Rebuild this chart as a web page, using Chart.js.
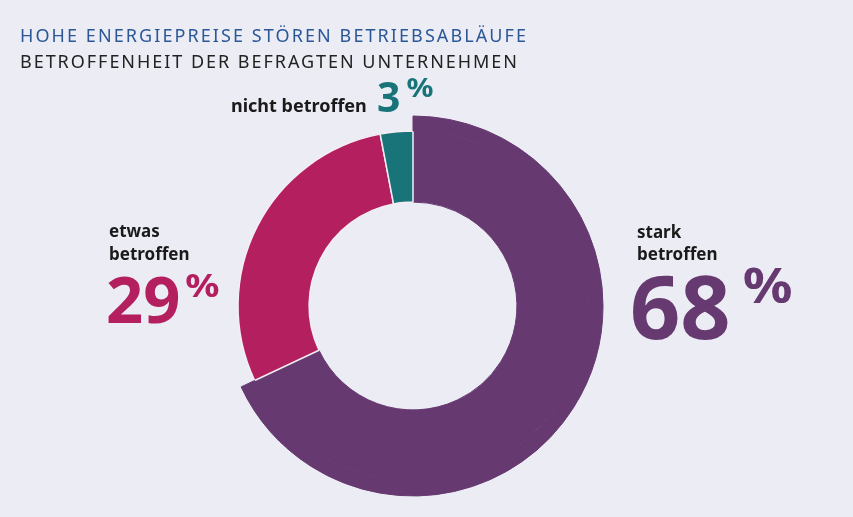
<!DOCTYPE html>
<html lang="de">
<head>
<meta charset="utf-8">
<title>Hohe Energiepreise stören Betriebsabläufe</title>
<script src="https://cdn.jsdelivr.net/npm/chart.js@4.4.1/dist/chart.umd.min.js"></script>
<style>
  html, body { margin: 0; padding: 0; background: #ececf5; }
  #wrap { position: relative; width: 853px; height: 517px; }
  canvas { display: block; }
</style>
</head>
<body>
<div id="wrap"><canvas id="donut" width="853" height="517"></canvas></div>
<script>
// Daten
const TITLE = 'HOHE ENERGIEPREISE STÖREN BETRIEBSABLÄUFE';
const SUBTITLE = 'BETROFFENHEIT DER BEFRAGTEN UNTERNEHMEN';
const CATEGORIES = ['stark betroffen', 'etwas betroffen', 'nicht betroffen'];
const SHARES = [68, 29, 3];

const COLORS = {
  bg: '#ececf5',
  title: '#2b5797',
  subtitle: '#222222',
  label: '#1a1a1a',
  stark: '#663970',
  etwas: '#b41f5f',
  nicht: '#187479',
};
const SLICE_COLORS = [COLORS.stark, COLORS.etwas, COLORS.nicht];
const FONT = '"Noto Sans", "Open Sans", sans-serif';

// label placement (baselines in px), one entry per category
const LABEL_LAYOUT = [
  { lines: ['stark', 'betroffen'], x: 637, y: 238, lh: 22, size: 17,
    num: { x: 630, y: 339, size: 88 }, pct: { dx: 12, y: 303, size: 48 } },
  { lines: ['etwas', 'betroffen'], x: 109, y: 237, lh: 23, size: 17,
    num: { x: 106, y: 323, size: 65 }, pct: { dx: 5, y: 297, size: 33 } },
  { lines: ['nicht betroffen'], x: 231, y: 112, lh: 0, size: 18,
    num: { x: 377, y: 112, size: 41 }, pct: { dx: 6, y: 97, size: 26 } },
];

function fitSpacing(ctx, text, width) {
  ctx.letterSpacing = '0px';
  const w = ctx.measureText(text).width;
  return (width - w) / (text.length - 1);
}

const textPlugin = {
  id: 'texts',
  afterDraw(chart) {
    const ctx = chart.ctx;
    ctx.save();
    ctx.textBaseline = 'alphabetic';
    ctx.textAlign = 'left';

    // Titel
    ctx.font = `400 18px ${FONT}`;
    ctx.fillStyle = COLORS.title;
    ctx.letterSpacing = fitSpacing(ctx, TITLE, 506) + 'px';
    ctx.fillText(TITLE, 20, 42);
    ctx.fillStyle = COLORS.subtitle;
    ctx.letterSpacing = fitSpacing(ctx, SUBTITLE, 497) + 'px';
    ctx.fillText(SUBTITLE, 20, 68);
    ctx.letterSpacing = '0px';

    // Beschriftungen
    SHARES.forEach((v, i) => {
      const L = LABEL_LAYOUT[i];
      ctx.fillStyle = COLORS.label;
      ctx.font = `700 ${L.size}px ${FONT}`;
      L.lines.forEach((t, k) => ctx.fillText(t, L.x, L.y + k * L.lh));

      ctx.fillStyle = SLICE_COLORS[i];
      ctx.font = `700 ${L.num.size}px ${FONT}`;
      const numText = String(v);
      ctx.fillText(numText, L.num.x, L.num.y);
      const nw = ctx.measureText(numText).width;
      // the percent sign is a bit wider in the original face
      ctx.font = `700 ${L.pct.size}px ${FONT}`;
      ctx.save();
      ctx.translate(L.num.x + nw + L.pct.dx, L.pct.y);
      ctx.scale(1.15, 1);
      ctx.fillText('%', 0, 0);
      ctx.restore();
    });
    ctx.restore();
  },
};

const ctx = document.getElementById('donut').getContext('2d');
new Chart(ctx, {
  type: 'doughnut',
  data: {
    labels: CATEGORIES,
    datasets: [
      // outer rim: only the large slice sticks out
      {
        data: SHARES,
        backgroundColor: [COLORS.stark, 'rgba(0,0,0,0)', 'rgba(0,0,0,0)'],
        borderColor: [COLORS.stark, 'rgba(0,0,0,0)', 'rgba(0,0,0,0)'],
        borderWidth: [1, 0, 0],
        weight: 15,
      },
      {
        data: SHARES,
        backgroundColor: SLICE_COLORS,
        borderColor: [COLORS.stark, '#f4eef4', '#f4eef4'],
        borderWidth: [1, 1.5, 1.5],
        weight: 71,
      },
    ],
  },
  options: {
    responsive: false,
    devicePixelRatio: 1,
    animation: false,
    radius: 190,
    cutout: '54.7%',
    layout: { padding: { left: 213, right: 240, top: 106, bottom: 11 } },
    plugins: {
      legend: { display: false },
      tooltip: { enabled: false },
    },
  },
  plugins: [textPlugin],
});
</script>
</body>
</html>
